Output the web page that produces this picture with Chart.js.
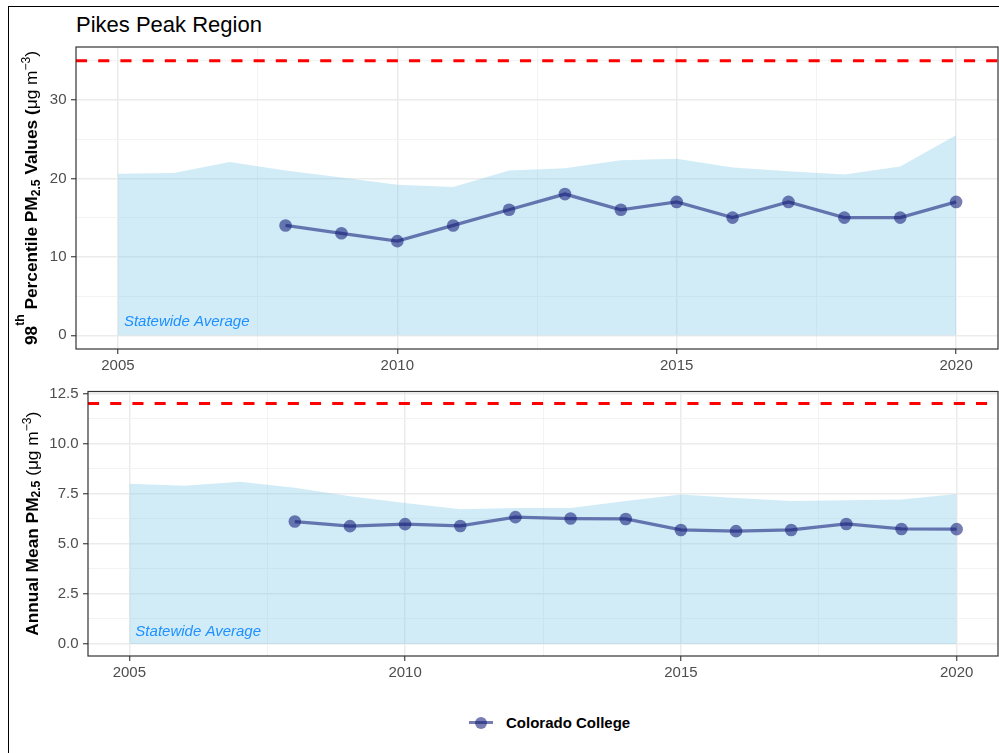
<!DOCTYPE html>
<html>
<head>
<meta charset="utf-8">
<script src="https://cdn.jsdelivr.net/npm/chart.js@4.4.1/dist/chart.umd.min.js"></script>
<style>
    body {
        margin: 0;
        width: 999px;
        height: 753px;
        overflow: hidden;
        position: relative;
        background: #fff;
        font-family: "Liberation Sans", Arial, sans-serif;
    }
    #frame {
        position: absolute;
        left: 8px;
        top: 6px;
        width: 1200px;
        height: 1000px;
        border: 1.4px solid #000;
    }
    #title {
        position: absolute;
        left: 76px;
        top: 14px;
        font-size: 22px;
        line-height: 22px;
        color: #000;
    }
    canvas {
        position: absolute;
        left: 0;
    }
    #chart-p98 { top: 30px; }
    #chart-mean { top: 375px; }
    #legend .bar {
        position: absolute;
        left: 469px;
        top: 721px;
        width: 24px;
        height: 3.3px;
        background: rgba(20, 30, 120, 0.58);
    }
    #legend .dot {
        position: absolute;
        left: 474.8px;
        top: 716.5px;
        width: 12.6px;
        height: 12.6px;
        border-radius: 50%;
        background: rgba(20, 30, 120, 0.58);
    }
    #legend .label {
        position: absolute;
        left: 506px;
        top: 714.5px;
        font-size: 15px;
        line-height: 15px;
        font-weight: bold;
        color: #000;
    }
</style>
</head>
<body>
<div id="frame"></div>
<div id="title">Pikes Peak Region</div>
<canvas id="chart-p98" width="999" height="345"></canvas>
<canvas id="chart-mean" width="999" height="310"></canvas>
<div id="legend">
    <span class="bar"></span><span class="dot"></span>
    <span class="label">Colorado College</span>
</div>
<script>
// tahun data
const years = [2005, 2006, 2007, 2008, 2009, 2010, 2011, 2012, 2013, 2014, 2015, 2016, 2017, 2018, 2019, 2020];
const siteYears = [2008, 2009, 2010, 2011, 2012, 2013, 2014, 2015, 2016, 2017, 2018, 2019, 2020];

// 98th percentile (ug/m3)
const stateP98 = [20.6, 20.7, 22.1, 21.0, 20.1, 19.2, 18.9, 21.0, 21.3, 22.3, 22.5, 21.4, 20.9, 20.5, 21.5, 25.5];
const siteP98 = [14, 13, 12, 14, 16, 18, 16, 17, 15, 17, 15, 15, 17];
const standardP98 = 35;

// annual mean (ug/m3)
const stateMean = [8.0, 7.9, 8.1, 7.8, 7.37, 7.04, 6.72, 6.79, 6.79, 7.14, 7.46, 7.29, 7.14, 7.17, 7.21, 7.49];
const siteMean = [6.11, 5.88, 5.98, 5.89, 6.33, 6.26, 6.24, 5.69, 5.63, 5.69, 5.99, 5.74, 5.73];
const standardMean = 12;

// tick labels
const yearTicks = [2005, 2010, 2015, 2020];
const p98Ticks = [0, 10, 20, 30];
const meanTicks = [0, 2.5, 5, 7.5, 10, 12.5];

const FONT = "'Liberation Sans', Arial, sans-serif";
const SITE_COLOR = "rgba(20, 30, 120, 0.58)";
const AREA_COLOR = "rgba(135, 206, 235, 0.38)";

// ggplot-style 5% expansion of a range
const expand = (lo, hi) => [lo - (hi - lo) * 0.05, hi + (hi - lo) * 0.05];

// major ticks plus minor ones halfway between (and beyond, if inside the range)
function withMinor(major, lo, hi) {
    const step = major[1] - major[0];
    const out = [];
    for (let v = major[0] - step / 2; v <= hi + 1e-9; v += step / 2) {
        if (v >= lo - 1e-9) out.push(+v.toFixed(4));
    }
    return out;
}

function gridOptions(major) {
    const isMajor = (c) => major.includes(c.tick.value);
    return {
        color: (c) => (isMajor(c) ? "#ebebeb" : "#f2f2f2"),
        lineWidth: (c) => (isMajor(c) ? 1.5 : 0.9),
        tickLength: 5,
        tickWidth: 1.1,
        tickColor: (c) => (isMajor(c) ? "#333333" : "rgba(0,0,0,0)"),
    };
}

// border, "Statewide Average" note and the y axis title with sub/superscripts
const panelDecor = {
    id: "panelDecor",
    afterDatasetsDraw(chart, args, opts) {
        const { ctx, scales } = chart;
        ctx.save();
        ctx.font = "italic 15px " + FONT;
        ctx.fillStyle = "#1e90ff";
        ctx.textBaseline = "middle";
        ctx.fillText(
            "Statewide Average",
            scales.x.getPixelForValue(opts.noteX) + 6,
            scales.y.getPixelForValue(opts.noteY)
        );
        ctx.restore();
    },
    afterDraw(chart, args, opts) {
        const { ctx, chartArea } = chart;
        ctx.save();
        ctx.strokeStyle = "#333333";
        ctx.lineWidth = 1.2;
        ctx.strokeRect(chartArea.left, chartArea.top, chartArea.right - chartArea.left, chartArea.bottom - chartArea.top);

        // rotated title, drawn piece by piece
        const size = opts.titleSize;
        const fontFor = (p) => (p.bold ? "bold " : "") + (p.sup || p.sub ? size * 0.7 : size) + "px " + FONT;
        let total = 0;
        opts.title.forEach((p) => {
            ctx.font = fontFor(p);
            p.w = ctx.measureText(p.t).width;
            total += p.w;
        });
        ctx.translate(opts.titleX, (chartArea.top + chartArea.bottom) / 2);
        ctx.rotate(-Math.PI / 2);
        ctx.fillStyle = "#000";
        ctx.textBaseline = "alphabetic";
        let x = -total / 2;
        const base = size * 0.36;
        opts.title.forEach((p) => {
            ctx.font = fontFor(p);
            const dy = p.sup ? -size * p.sup : p.sub ? size * 0.15 : 0;
            ctx.fillText(p.t, x, base + dy);
            x += p.w;
        });
        ctx.restore();
    },
};

function makePanel(canvasId, panel) {
    const [xMin, xMax] = expand(years[0], years[years.length - 1]);
    const [yMin, yMax] = expand(0, panel.standard);

    const data = {
        datasets: [
            {
                label: "Colorado College",
                data: siteYears.map((yr, i) => ({ x: yr, y: panel.site[i] })),
                borderColor: SITE_COLOR,
                borderWidth: 3.3,
                backgroundColor: SITE_COLOR,
                pointRadius: 6.3,
                pointBorderWidth: 0,
                tension: 0,
                order: 0,
            },
            {
                label: "Standard",
                data: [{ x: xMin, y: panel.standard }, { x: xMax, y: panel.standard }],
                borderColor: "#ff0000",
                borderWidth: 2.8,
                borderDash: [11.1, 11.1],
                pointRadius: 0,
                order: 1,
            },
            {
                label: "Statewide Average",
                data: years.map((yr, i) => ({ x: yr, y: panel.state[i] })),
                borderWidth: 0,
                pointRadius: 0,
                fill: "origin",
                backgroundColor: AREA_COLOR,
                tension: 0,
                order: 2,
            },
        ],
    };

    const config = {
        type: "line",
        data: data,
        options: {
            responsive: false,
            animation: false,
            devicePixelRatio: 1,
            layout: {
                autoPadding: false, // panel edges are fixed, points never reach them
                padding: { top: panel.padTop, right: 1, bottom: 0, left: 0 },
            },
            plugins: {
                legend: { display: false },
                tooltip: { enabled: false },
                panelDecor: {
                    noteX: years[0],
                    noteY: panel.standard * 0.05,
                    title: panel.title,
                    titleX: panel.titleX,
                    titleSize: 17.3,
                },
            },
            scales: {
                x: {
                    type: "linear",
                    min: xMin,
                    max: xMax,
                    afterBuildTicks: (axis) => {
                        axis.ticks = withMinor(yearTicks, xMin, xMax).map((v) => ({ value: v }));
                    },
                    afterFit: (axis) => {
                        axis.height = panel.xAxisHeight;
                        axis.paddingLeft = 0;
                        axis.paddingRight = 0;
                    },
                    ticks: {
                        autoSkip: false,
                        maxRotation: 0,
                        padding: 3,
                        color: "#4d4d4d",
                        font: { family: FONT, size: 15 },
                        callback: (v) => (yearTicks.includes(v) ? String(v) : ""),
                    },
                    grid: gridOptions(yearTicks),
                    border: { display: false },
                },
                y: {
                    type: "linear",
                    min: yMin,
                    max: yMax,
                    afterBuildTicks: (axis) => {
                        axis.ticks = withMinor(panel.ticks, yMin, yMax).map((v) => ({ value: v }));
                    },
                    afterFit: (axis) => {
                        axis.width = panel.yAxisWidth;
                        axis.paddingTop = 0;
                        axis.paddingBottom = 0;
                    },
                    ticks: {
                        autoSkip: false,
                        padding: 4.5,
                        color: "#4d4d4d",
                        font: { family: FONT, size: 15 },
                        callback: (v) => (panel.ticks.includes(v) ? panel.format(v) : ""),
                    },
                    grid: gridOptions(panel.ticks),
                    border: { display: false },
                },
            },
        },
        plugins: [panelDecor],
    };
    return new Chart(document.getElementById(canvasId), config);
}

/*
-------------------------------------------------------------------------
98th percentile
-------------------------------------------------------------------------
*/
makePanel("chart-p98", {
    site: siteP98,
    state: stateP98,
    standard: standardP98,
    ticks: p98Ticks,
    format: (v) => String(v),
    padTop: 17,
    yAxisWidth: 76,
    xAxisHeight: 26,
    titleX: 31.1,
    title: [
        { t: "98", bold: true },
        { t: "th", bold: true, sup: 0.77 },
        { t: " Percentile PM", bold: true },
        { t: "2.5", bold: true, sub: true },
        { t: " Values (", bold: true },
        { t: "\u03bcg m" },
        { t: "\u22123", sup: 0.4 },
        { t: ")" },
    ],
});

/*
-------------------------------------------------------------------------
Annual mean
-------------------------------------------------------------------------
*/
makePanel("chart-mean", {
    site: siteMean,
    state: stateMean,
    standard: standardMean,
    ticks: meanTicks,
    format: (v) => v.toFixed(1),
    padTop: 16.5,
    yAxisWidth: 88,
    xAxisHeight: 29,
    titleX: 31.5,
    title: [
        { t: "Annual Mean PM", bold: true },
        { t: "2.5", bold: true, sub: true },
        { t: " (" },
        { t: "\u03bcg m" },
        { t: "\u22123", sup: 0.4 },
        { t: ")" },
    ],
});
</script>
</body>
</html>
